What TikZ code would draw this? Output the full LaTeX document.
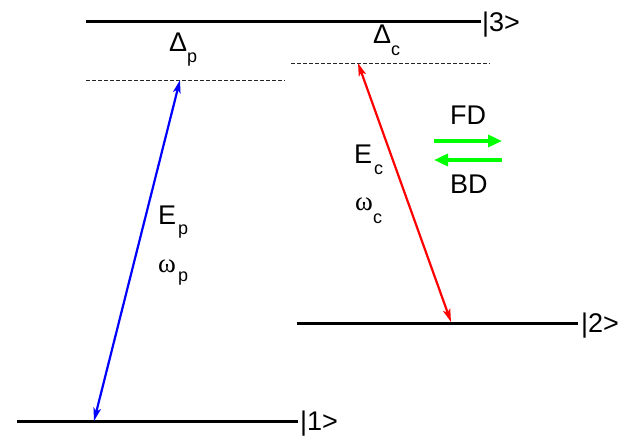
\documentclass[tikz,border=0pt]{standalone}
\usepackage{fontspec}
\setmainfont{Liberation Sans}
\newfontfamily\grk{Liberation Serif}
\usetikzlibrary{arrows.meta}
\tikzset{
  level/.style={line width=3pt, black},
  virt/.style={line width=0.8pt, black!85, dash pattern=on 3.5pt off 2.5pt},
  trans/.style={line width=2.2pt, {Stealth[length=13pt,width=7.5pt,inset=3pt]}-{Stealth[length=13pt,width=7.5pt,inset=3pt]}},
  dirarr/.style={line width=4.5pt, green, -{Triangle[length=14pt,width=12pt]}},
  big/.style={font=\fontsize{27}{30}\selectfont, inner sep=0pt, anchor=base west},
  grkbig/.style={font=\fontsize{27}{30}\selectfont\grk, inner sep=0pt, anchor=base west},
  sub/.style={font=\fontsize{18}{20}\selectfont, inner sep=0pt, anchor=base west}
}
\begin{document}
\begin{tikzpicture}[x=1pt,y=-1pt]
\useasboundingbox (0,0) rectangle (631,436);
% levels
\coordinate (l3a) at (86,22);  \coordinate (l3b) at (481,22);
\coordinate (l2a) at (297,323); \coordinate (l2b) at (578,323);
\coordinate (l1a) at (17,421);  \coordinate (l1b) at (298,421);
\draw[level] (l3a) -- (l3b);
\draw[level] (l2a) -- (l2b);
\draw[level] (l1a) -- (l1b);
\node[big] (k3) at (482,32) {|3>};
\node[big] (k2) at (581,332) {|2>};
\node[big] (k1) at (300,430) {|1>};
% virtual levels
\coordinate (vpa) at (86,80);  \coordinate (vpb) at (285,80);
\coordinate (vca) at (291,63); \coordinate (vcb) at (490,63);
\draw[virt] (vpa) -- (vpb);
\draw[virt] (vca) -- (vcb);
% detunings
\node[big] (dp) at (169,52) {Δ};
\node[sub] (dps) at (187,63) {p};
\node[big] (dc) at (373,44) {Δ};
\node[sub] (dcs) at (391,56) {c};
% transitions
\coordinate (pt) at (180,80); \coordinate (pb) at (94,421);
\coordinate (ct) at (358,63); \coordinate (cb) at (451,322);
\draw[trans, blue] (pt) -- (pb);
\draw[trans, red] (ct) -- (cb);
% labels
\node[big] (ep) at (158,224) {E};
\node[sub] (eps) at (178,234) {p};
\node[grkbig] (wp) at (158,272) {ω};
\node[sub] (wps) at (178,281) {p};
\node[big] (ec) at (354,163) {E};
\node[sub] (ecs) at (374,174) {c};
\node[grkbig] (wc) at (355,210) {ω};
\node[sub] (wcs) at (373,223) {c};
% FD / BD
\node[big] (fd) at (450,124) {FD};
\node[big] (bd) at (450,193) {BD};
\coordinate (f1) at (434,141); \coordinate (f2) at (502,141);
\coordinate (b1) at (502,160); \coordinate (b2) at (434,160);
\draw[dirarr] (f1) -- (f2);
\draw[dirarr] (b1) -- (b2);
\end{tikzpicture}
\end{document}
